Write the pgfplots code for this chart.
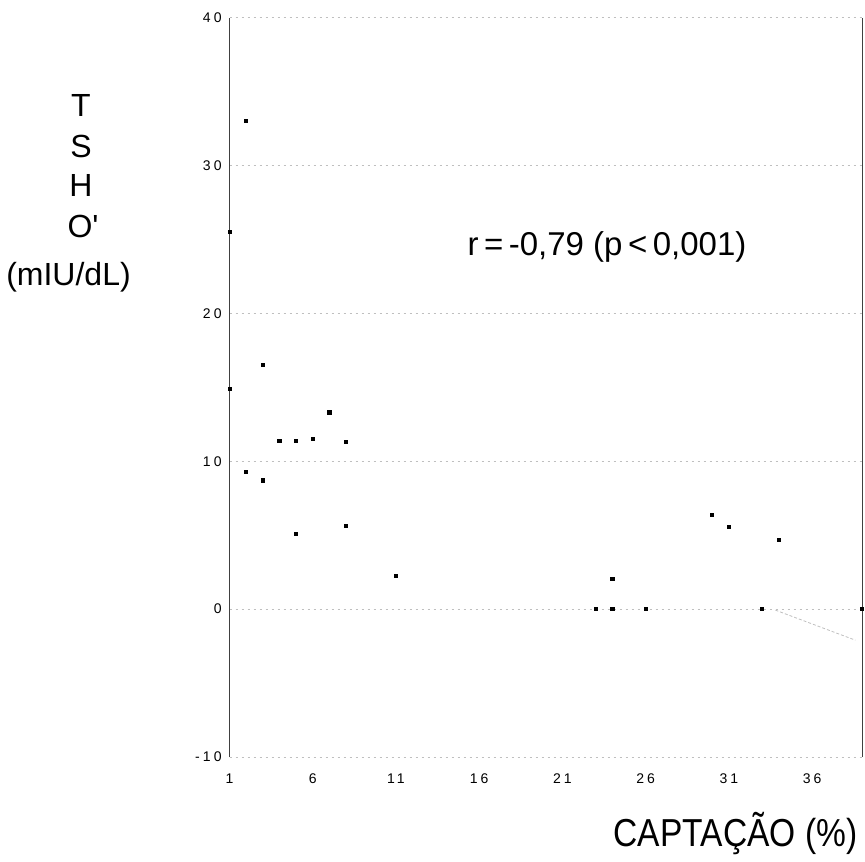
\documentclass[border=0pt]{standalone}
\usepackage{fontspec}
\setmainfont{Liberation Sans}
\newfontfamily\tickfont[LetterSpace=22]{Liberation Sans}
\newfontfamily\plainfont{Liberation Sans}
\usepackage{pgfplots}
\pgfplotsset{compat=1.18}

\begin{document}
\begin{tikzpicture}
\useasboundingbox (0,0) rectangle (432.5pt,-430.5pt);
\begin{axis}[
  at={(114.75pt,-378.5pt)}, anchor=south west,
  scale only axis, width=316.25pt, height=369.75pt,
  xmin=1, xmax=39, ymin=-10, ymax=40,
  xtick={1,6,...,36}, ytick={-10,0,...,40},
  major tick length=0pt,
  separate axis lines,
  x axis line style={draw=none},
  y axis line style={black!75, line width=0.5pt},
  ymajorgrids,
  grid style={gray!50, line width=0.35pt, dash pattern=on 1pt off 2pt},
  tick label style={font=\tickfont\fontsize{7}{8}\selectfont},
  /pgf/number format/assume math mode=true,
  xticklabel style={inner sep=0pt, anchor=north, yshift=-8pt},
  yticklabel style={inner sep=0pt, anchor=east, xshift=-3.75pt},
  clip=false,
]
% faint piece of the regression line visible near the lower right
\addplot[gray!50, line width=0.4pt, dash pattern=on 1.5pt off 1pt]
  coordinates {(33.8,-0.07) (38.6,-2.1)};
\addplot[only marks, mark=square*, mark size=0.8pt, black] coordinates {
  (1,25.5) (1,14.9) (2,33.0) (2,9.3) (3,16.5) (3,8.7)
  (4,11.4) (5,11.4) (5,5.1) (6,11.5) (7,13.3) (8,11.3) (8,5.6)
  (11,2.25) (23,0) (24,0) (24,2.05) (26,0)
  (30,6.35) (31,5.55) (33,0) (34,4.7) (39,0)
};
\end{axis}
\begin{scope}[every node/.style={inner sep=0pt, anchor=base}]
  \node[font=\fontsize{16}{18}\selectfont] at (40.5pt,-58.5pt) {T};
  \node[font=\fontsize{16}{18}\selectfont] at (40.5pt,-78.5pt) {S};
  \node[font=\fontsize{16}{18}\selectfont] at (40.5pt,-98.5pt) {H};
  \node[font=\plainfont\fontsize{16}{18}\selectfont] at (41.5pt,-118.5pt) {O'};
  \node[font=\fontsize{16}{18}\selectfont] at (34.25pt,-142.5pt) {(mIU/dL)};
  \node[font=\fontsize{16.5}{19}\selectfont] at (303.5pt,-127.5pt) {r\,=\,-0,79\ (p\,<\,0,001)};
  \node[font=\fontsize{19.5}{22}\selectfont, xscale=0.86] at (367.75pt,-423pt) {CAPTAÇÃO (\%)};
\end{scope}
\end{tikzpicture}
\end{document}
